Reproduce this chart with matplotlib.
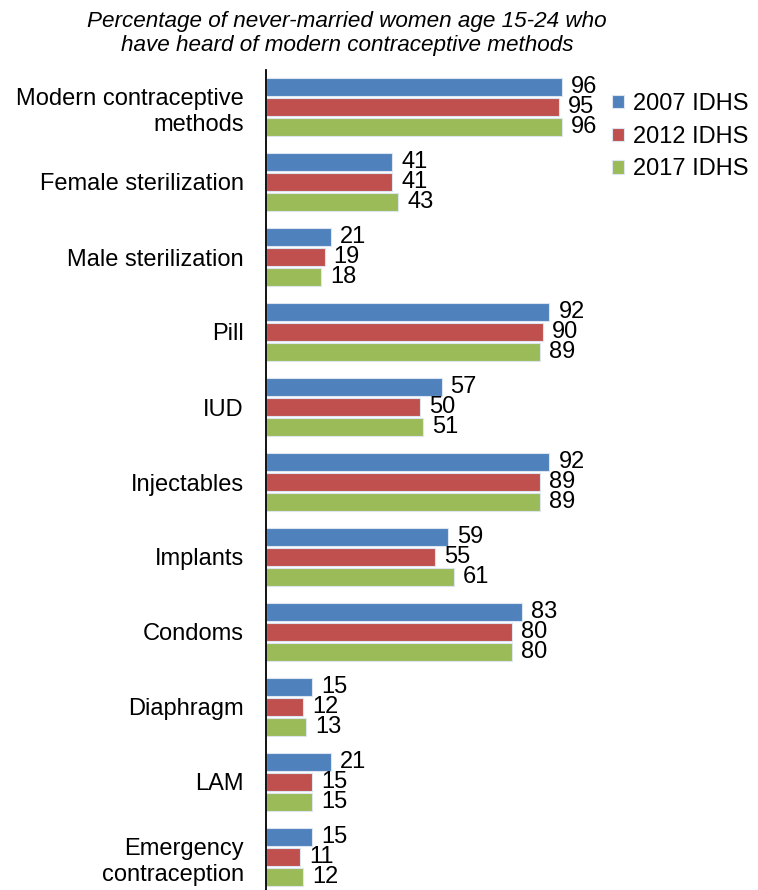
import matplotlib
matplotlib.use('agg')
import matplotlib.pyplot as plt
import numpy as np

plt.rcParams.update({
    "font.family": ["Liberation Sans", "DejaVu Sans"],
    "font.size": 17})

categories = ["Modern contraceptive\nmethods", "Female sterilization", "Male sterilization",
              "Pill", "IUD", "Injectables", "Implants", "Condoms", "Diaphragm", "LAM",
              "Emergency\ncontraception"]
series_names = ["2007 IDHS", "2012 IDHS", "2017 IDHS"]
v2007 = [96, 41, 21, 92, 57, 92, 59, 83, 15, 21, 15]
v2012 = [95, 41, 19, 90, 50, 89, 55, 80, 12, 15, 11]
v2017 = [96, 43, 18, 89, 51, 89, 61, 80, 13, 15, 12]
colors = ["#4F81BD", "#C0504D", "#9BBB59"]

W, H = 758, 890
fig = plt.figure(figsize=(W / 100, H / 100), dpi=100)
# axes: left edge at axis line, 100 units = 308 px
ax = fig.add_axes([266 / W, 0, 308 / W, (H - 69.5) / H])

y = np.arange(len(categories))
offsets = [-0.267, 0, 0.267]
for vals, off, col, name in zip([v2007, v2012, v2017], offsets, colors, series_names):
    bars = ax.barh(y + off, vals, height=0.24, color=col, edgecolor="#dde6f0",
                   linewidth=0.8, label=name)
    for b, v in zip(bars, vals):
        ax.annotate(str(v), (b.get_width(), b.get_y() + b.get_height() / 2),
                    xytext=(6.5, 0), textcoords="offset points", ha="left",
                    va="center", fontsize=17, annotation_clip=False)

ax.set_xlim(0, 100)
ax.set_ylim(-0.5 + 820.5 / 75, -0.5)
ax.set_yticks(y)
ax.set_yticklabels(categories, ha="right", linespacing=1.25)
ax.tick_params(axis="y", length=0, pad=16)
ax.set_xticks([])
for s in ["top", "right", "bottom"]:
    ax.spines[s].set_visible(False)
ax.spines["left"].set_linewidth(1.3)

leg = fig.legend(loc="upper left", bbox_to_anchor=(612 / W, 1 - 93 / H), frameon=False,
                 borderpad=0, borderaxespad=0,
                 handlelength=0.5, handleheight=0.5, handletextpad=0.4,
                 labelspacing=0.45, fontsize=17)

fig.text(347 / W, 1 - 33.5 / H,
         "Percentage of never-married women age 15-24 who\nhave heard of modern contraceptive methods",
         ha="center", va="center", style="italic", fontsize=16.2, linespacing=1.2)

plt.savefig("out.png", dpi=100)
